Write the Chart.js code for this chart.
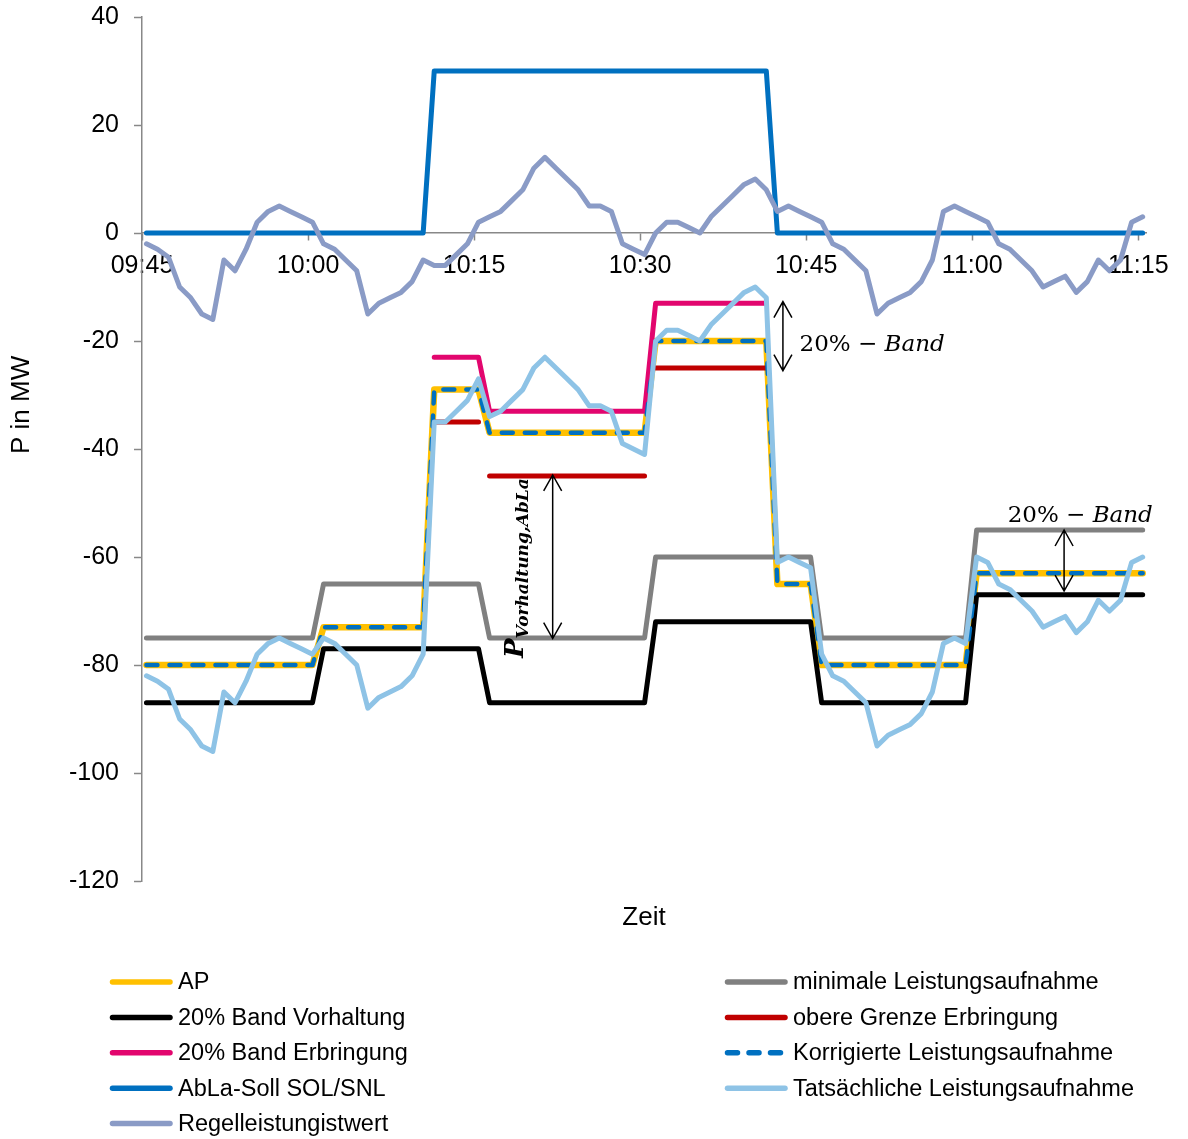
<!DOCTYPE html>
<html>
<head>
<meta charset="utf-8">
<script src="https://cdn.jsdelivr.net/npm/chart.js@4/dist/chart.umd.min.js"></script>
<style>
  html, body { margin: 0; padding: 0; background: #fff; }
  #wrap { width: 1188px; height: 1139px; }
</style>
</head>
<body>
<div id="wrap"><canvas id="chart" width="1188" height="1139"></canvas></div>
<script>
// Time base: one sample per minute, 91 samples, starting shortly after 09:45
const SAMPLE_OFFSET = 0.4;            // minutes after 09:45 of the first sample
const sampleTimes = Array.from({ length: 91 }, (_, i) => i + SAMPLE_OFFSET);
const axisStartMinutes = 9 * 60 + 45; // 09:45
const timeTicks = [0, 15, 30, 45, 60, 75, 90];
const powerTicks = [-120, -100, -80, -60, -40, -20, 0, 20, 40];

const seriesLabels = [
  'AP',
  '20% Band Vorhaltung',
  '20% Band Erbringung',
  'AbLa-Soll SOL/SNL',
  'Regelleistungistwert',
  'minimale Leistungsaufnahme',
  'obere Grenze Erbringung',
  'Korrigierte Leistungsaufnahme',
  'Tatsächliche Leistungsaufnahme'
];

// Arbeitspunkt (MW)
const apValues = [
  -80,-80,-80,-80,-80,-80,-80,-80,-80,-80,-80,-80,-80,-80,-80,-80,
  -73,-73,-73,-73,-73,-73,-73,-73,-73,-73,
  -29,-29,-29,-29,-29,
  -37,-37,-37,-37,-37,-37,-37,-37,-37,-37,-37,-37,-37,-37,-37,
  -20,-20,-20,-20,-20,-20,-20,-20,-20,-20,-20,
  -65,-65,-65,-65,
  -80,-80,-80,-80,-80,-80,-80,-80,-80,-80,-80,-80,-80,-80,
  -63,-63,-63,-63,-63,-63,-63,-63,-63,-63,-63,-63,-63,-63,-63,-63
];

// lower edge of the 20 % band (Vorhaltung)
const vorhaltungValues = [
  -87,-87,-87,-87,-87,-87,-87,-87,-87,-87,-87,-87,-87,-87,-87,-87,
  -77,-77,-77,-77,-77,-77,-77,-77,-77,-77,-77,-77,-77,-77,-77,
  -87,-87,-87,-87,-87,-87,-87,-87,-87,-87,-87,-87,-87,-87,-87,
  -72,-72,-72,-72,-72,-72,-72,-72,-72,-72,-72,-72,-72,-72,-72,
  -87,-87,-87,-87,-87,-87,-87,-87,-87,-87,-87,-87,-87,-87,
  -67,-67,-67,-67,-67,-67,-67,-67,-67,-67,-67,-67,-67,-67,-67,-67
];

// upper edge of the 20 % band while delivering
const erbringungValues = [
  null,null,null,null,null,null,null,null,null,null,null,null,null,
  null,null,null,null,null,null,null,null,null,null,null,null,null,
  -23,-23,-23,-23,-23,
  -33,-33,-33,-33,-33,-33,-33,-33,-33,-33,-33,-33,-33,-33,-33,
  -13,-13,-13,-13,-13,-13,-13,-13,-13,-13,-13,
  null,null,null,null,null,null,null,null,null,null,null,null,null,null,null,null,null,
  null,null,null,null,null,null,null,null,null,null,null,null,null,null,null,null,null
];

// AbLa set point SOL/SNL
const ablaSollValues = [
  0,0,0,0,0,0,0,0,0,0,0,0,0,0,0,0,0,0,0,0,0,0,0,0,0,0,
  30,30,30,30,30,30,30,30,30,30,30,30,30,30,30,30,30,30,30,30,30,30,30,30,30,30,30,30,30,30,30,
  0,0,0,0,0,0,0,0,0,0,0,0,0,0,0,0,0,0,0,0,0,0,0,0,0,0,0,0,0,0,0,0,0,0
];

// control power actual value
const regelValues = [
  -2,-3,-4.5,-10,-12,-15,-16,-5,-7,-3,
  2,4,5,4,3,2,-2,-3,-5,-7,
  -15,-13,-12,-11,-9,-5,-6,-6,-4,-2,
  2,3,4,6,8,12,14,12,10,8,
  5,5,4,-2,-3,-4,0,2,2,1,
  0,3,5,7,9,10,8,4,5,4,
  3,2,-2,-3,-5,-7,-15,-13,-12,-11,
  -9,-5,4,5,4,3,2,-2,-3,-5,
  -7,-10,-9,-8,-11,-9,-5,-7,-5,2,
  3
];

// minimum power consumption
const minimaleValues = [
  -75,-75,-75,-75,-75,-75,-75,-75,-75,-75,-75,-75,-75,-75,-75,-75,
  -65,-65,-65,-65,-65,-65,-65,-65,-65,-65,-65,-65,-65,-65,-65,
  -75,-75,-75,-75,-75,-75,-75,-75,-75,-75,-75,-75,-75,-75,-75,
  -60,-60,-60,-60,-60,-60,-60,-60,-60,-60,-60,-60,-60,-60,-60,
  -75,-75,-75,-75,-75,-75,-75,-75,-75,-75,-75,-75,-75,-75,
  -55,-55,-55,-55,-55,-55,-55,-55,-55,-55,-55,-55,-55,-55,-55,-55
];

// upper delivery limit (drawn as separate horizontal steps)
const obereGrenzeValues = [
  null,null,null,null,null,null,null,null,null,null,null,null,null,
  null,null,null,null,null,null,null,null,null,null,null,null,null,
  -35,-35,-35,-35,-35,
  -45,-45,-45,-45,-45,-45,-45,-45,-45,-45,-45,-45,-45,-45,-45,
  -25,-25,-25,-25,-25,-25,-25,-25,-25,-25,-25,
  null,null,null,null,null,null,null,null,null,null,null,null,null,null,null,null,null,
  null,null,null,null,null,null,null,null,null,null,null,null,null,null,null,null,null
];

// corrected power consumption
const korrigiertValues = [
  -80,-80,-80,-80,-80,-80,-80,-80,-80,-80,-80,-80,-80,-80,-80,-80,
  -73,-73,-73,-73,-73,-73,-73,-73,-73,-73,
  -29,-29,-29,-29,-29,
  -37,-37,-37,-37,-37,-37,-37,-37,-37,-37,-37,-37,-37,-37,-37,
  -20,-20,-20,-20,-20,-20,-20,-20,-20,-20,-20,
  -65,-65,-65,-65,
  -80,-80,-80,-80,-80,-80,-80,-80,-80,-80,-80,-80,-80,-80,
  -63,-63,-63,-63,-63,-63,-63,-63,-63,-63,-63,-63,-63,-63,-63,-63
];

// actual power consumption
const tatsaechlichValues = [
  -82,-83,-84.5,-90,-92,-95,-96,-85,-87,-83,
  -78,-76,-75,-76,-77,-78,-75,-76,-78,-80,
  -88,-86,-85,-84,-82,-78,-35,-35,-33,-31,
  -27,-34,-33,-31,-29,-25,-23,-25,-27,-29,
  -32,-32,-33,-39,-40,-41,-20,-18,-18,-19,
  -20,-17,-15,-13,-11,-10,-12,-61,-60,-61,
  -62,-78,-82,-83,-85,-87,-95,-93,-92,-91,
  -89,-85,-76,-75,-76,-60,-61,-65,-66,-68,
  -70,-73,-72,-71,-74,-72,-68,-70,-68,-61,
  -60
];

// double arrows marking the bands (time in minutes after 09:45, values in MW)
const bandArrows = [
  { time: 57.9, from: -12.7, to: -25.5 },
  { time: 37.1, from: -44.8, to: -75.1 },
  { time: 83.3, from: -55.0, to: -66.3 }
];
const bandLabels = [
  { time: 59.4, value: -21.8 },
  { time: 78.2, value: -53.6 }
];
const vorhaltungLabel = { time: 34.4, value: -78.7 };

const seriesValues = [
  apValues, vorhaltungValues, erbringungValues, ablaSollValues, regelValues,
  minimaleValues, obereGrenzeValues, korrigiertValues, tatsaechlichValues
];
const seriesStyles = [
  { color: '#FFC000', width: 6.5 },
  { color: '#000000', width: 5 },
  { color: '#E2066E', width: 5 },
  { color: '#0070C0', width: 5 },
  { color: '#8A9BC6', width: 5 },
  { color: '#808080', width: 5 },
  { color: '#C00000', width: 5, stepsOnly: true },
  { color: '#0070C0', width: 4.5, dash: [11, 12] },
  { color: '#8EC3E6', width: 5 }
];

const FONT = '"Liberation Sans", Arial, sans-serif';
const MATH_FONT = '"DejaVu Serif", serif';

const fmtTime = v => {
  const t = axisStartMinutes + v;
  return String(Math.floor(t / 60)).padStart(2, '0') + ':' + String(t % 60).padStart(2, '0');
};

const datasets = seriesValues.map((vals, k) => {
  const st = seriesStyles[k];
  const ds = {
    label: seriesLabels[k],
    data: vals.map((v, i) => ({ x: sampleTimes[i], y: v })),
    borderColor: st.color,
    backgroundColor: st.color,
    borderWidth: st.width,
    borderDash: st.dash || [],
    borderCapStyle: 'round',
    borderJoinStyle: 'round',
    pointRadius: 0,
    tension: 0,
    fill: false,
    spanGaps: false,
    order: seriesValues.length - k
  };
  if (st.stepsOnly) {
    ds.segment = {
      borderColor: c => (c.p0.parsed.y !== c.p1.parsed.y ? 'rgba(0,0,0,0)' : undefined)
    };
  }
  return ds;
});

function drawDoubleArrow(ctx, px, yTop, yBottom) {
  const head = 16, half = 9;
  ctx.beginPath();
  ctx.moveTo(px, yTop); ctx.lineTo(px, yBottom);
  ctx.moveTo(px - half, yTop + head); ctx.lineTo(px, yTop); ctx.lineTo(px + half, yTop + head);
  ctx.moveTo(px - half, yBottom - head); ctx.lineTo(px, yBottom); ctx.lineTo(px + half, yBottom - head);
  ctx.stroke();
}

function drawBandLabel(ctx, px, py) {
  ctx.textAlign = 'left';
  ctx.textBaseline = 'alphabetic';
  ctx.font = '23px ' + MATH_FONT;
  const head = '20% \u2212 ';
  ctx.fillText(head, px, py);
  const w = ctx.measureText(head).width;
  ctx.font = 'italic 23px ' + MATH_FONT;
  ctx.fillText('Band', px + w, py);
}

const overlay = {
  id: 'overlay',
  afterDatasetsDraw(chart) {
    const { ctx, scales: { x, y } } = chart;
    ctx.save();
    ctx.strokeStyle = '#000';
    ctx.fillStyle = '#000';
    ctx.lineWidth = 1.5;
    bandArrows.forEach(a => {
      drawDoubleArrow(ctx, x.getPixelForValue(a.time), y.getPixelForValue(a.from), y.getPixelForValue(a.to));
    });
    bandLabels.forEach(l => drawBandLabel(ctx, x.getPixelForValue(l.time), y.getPixelForValue(l.value)));

    // P_{Vorhaltung,AbLa}, written bottom-to-top
    ctx.save();
    ctx.translate(x.getPixelForValue(vorhaltungLabel.time), y.getPixelForValue(vorhaltungLabel.value));
    ctx.rotate(-Math.PI / 2);
    ctx.textAlign = 'left';
    ctx.textBaseline = 'alphabetic';
    ctx.font = 'bold italic 26px ' + MATH_FONT;
    ctx.fillText('P', 0, 0);
    const pw = ctx.measureText('P').width;
    ctx.font = 'bold italic 17px ' + MATH_FONT;
    ctx.fillText('Vorhaltung,AbLa', pw, 5);
    ctx.restore();
    ctx.restore();
  },
  afterDraw(chart) {
    const { ctx, chartArea } = chart;
    ctx.save();
    ctx.fillStyle = '#000';
    // axis titles
    ctx.font = '26px ' + FONT;
    ctx.textAlign = 'center';
    ctx.textBaseline = 'alphabetic';
    ctx.fillText('Zeit', (chartArea.left + chartArea.right) / 2, chartArea.bottom + 44);
    ctx.save();
    ctx.translate(22, chartArea.top + (chartArea.bottom - chartArea.top) * 0.449);
    ctx.rotate(-Math.PI / 2);
    ctx.textBaseline = 'middle';
    ctx.fillText('P in MW', 0, 0);
    ctx.restore();

    // legend in two columns
    const rowH = 35.4;
    const top = chartArea.bottom + 101;
    const cols = [
      { lineX: 110, items: [0, 1, 2, 3, 4] },
      { lineX: 725, items: [5, 6, 7, 8] }
    ];
    ctx.font = '23.5px ' + FONT;
    ctx.textAlign = 'left';
    ctx.textBaseline = 'middle';
    cols.forEach(col => {
      col.items.forEach((k, r) => {
        const ds = chart.data.datasets[k];
        const cy = top + r * rowH;
        ctx.save();
        ctx.strokeStyle = ds.borderColor;
        ctx.lineWidth = 5.5;
        ctx.lineCap = 'round';
        ctx.setLineDash(k === 7 ? [10, 11.5] : []);
        ctx.beginPath();
        ctx.moveTo(col.lineX + 2.5, cy);
        ctx.lineTo(col.lineX + 60, cy);
        ctx.stroke();
        ctx.restore();
        ctx.fillStyle = '#000';
        ctx.fillText(ds.label, col.lineX + 68, cy + 1);
      });
    });
    ctx.restore();
  }
};

// keep the plot frame fixed: no extra room reserved for edge tick labels
const noVerticalPadding = s => { s.paddingTop = 0; s.paddingBottom = 0; };

new Chart(document.getElementById('chart'), {
  type: 'line',
  data: { datasets },
  options: {
    responsive: false,
    animation: false,
    layout: { padding: { left: 0, right: 42, top: 17, bottom: 258 } },
    plugins: { legend: { display: false }, tooltip: { enabled: false } },
    scales: {
      x: {
        type: 'linear',
        position: { y: 0 },
        min: 0,
        max: 90.7,
        afterBuildTicks: s => { s.ticks = timeTicks.map(v => ({ value: v })); },
        afterFit: noVerticalPadding,
        grid: { drawOnChartArea: false, drawTicks: true, tickLength: 7, tickColor: '#888', tickWidth: 1.5 },
        border: { color: '#888', width: 1.5 },
        ticks: {
          color: '#000', font: { size: 25, family: FONT }, padding: 11,
          maxRotation: 0, autoSkip: false, callback: v => fmtTime(v)
        }
      },
      y: {
        type: 'linear',
        min: -120,
        max: 40,
        afterBuildTicks: s => { s.ticks = powerTicks.map(v => ({ value: v })); },
        afterFit: s => { s.width = 142; noVerticalPadding(s); },
        grid: { drawOnChartArea: false, drawTicks: true, tickLength: 8, tickColor: '#888', tickWidth: 1.5 },
        border: { color: '#888', width: 1.5 },
        ticks: { color: '#000', font: { size: 25, family: FONT }, padding: 15 }
      }
    }
  },
  plugins: [overlay]
});
</script>
</body>
</html>
